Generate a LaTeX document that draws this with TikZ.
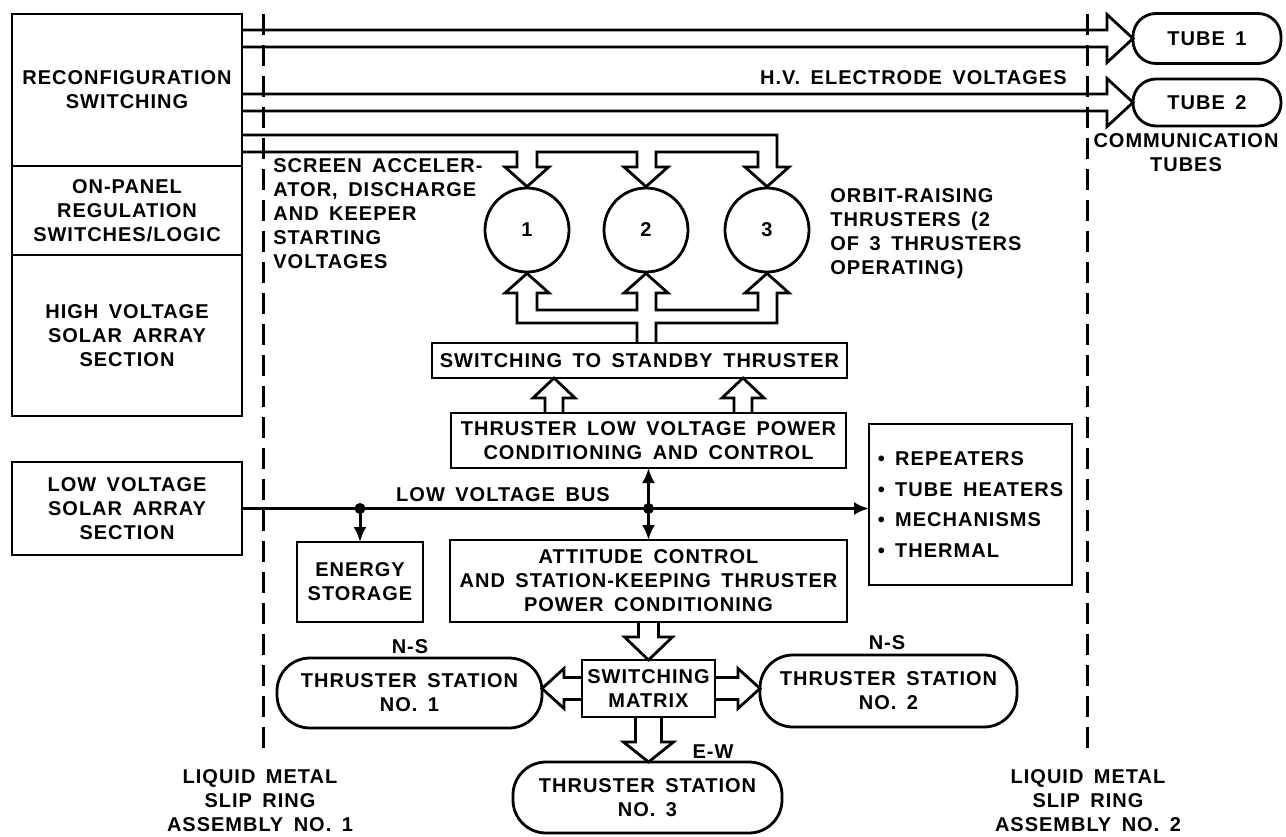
\documentclass[tikz,border=0pt]{standalone}
\usepackage{fontspec}
\setmainfont{Liberation Sans}[LetterSpace=5,WordSpace=1.6]
\usetikzlibrary{arrows.meta,calc,positioning}
\newcommand\hollowarrow[5]{%
  \path #4 coordinate (ha-s) #5 coordinate (ha-e);
  \draw[hollow] let \p1=($(ha-e)-(ha-s)$), \n1={veclen(\x1,\y1)}, \n2={atan2(\y1,\x1)} in
    [shift={(ha-s)},rotate=\n2] (0,#1) -- (\n1-#3,#1) -- (\n1-#3,#2) -- (\n1,0) -- (\n1-#3,-#2) -- (\n1-#3,-#1) -- (0,-#1);}

\begin{document}
\begin{tikzpicture}[x=1pt,y=-1pt,line width=2.8pt,>={Latex[length=15pt,width=13pt]},every node/.style={font=\fontsize{20}{24}\selectfont\bfseries,align=center,inner sep=0pt},box/.style={draw,outer sep=0pt},stadium/.style={draw,rounded corners=33,outer sep=0pt},hollow/.style={draw,line join=miter},bus/.style={line width=3pt},slip/.style={line width=3pt,dash pattern=on 21pt off 10pt}]
\useasboundingbox (0,0) rectangle (1286,836);
\coordinate (s1t) at (263,14); \coordinate (s1b) at (263,753);
\coordinate (s2t) at (1087,14); \coordinate (s2b) at (1087,753);
\draw[slip] (s1t)--(s1b); \draw[slip] (s2t)--(s2b);
\node[box,minimum width=230,minimum height=152] (rec) at (127,90) {RECONFIGURATION\\SWITCHING};
\node[box,minimum width=230,minimum height=89,below=0pt of rec] (onp) {ON-PANEL\\REGULATION\\SWITCHES/LOGIC};
\node[box,minimum width=230,minimum height=161,below=0pt of onp] (hvs) {HIGH VOLTAGE\\SOLAR ARRAY\\SECTION};
\node[box,minimum width=230,minimum height=93] (lvs) at (127,508.5) {LOW VOLTAGE\\SOLAR ARRAY\\SECTION};
\node[stadium,rounded corners=23,minimum width=148,minimum height=50] (tube1) at (1207,38.5) {TUBE 1};
\node[stadium,rounded corners=23,minimum width=148,minimum height=47] (tube2) at (1207,102.5) {TUBE 2};
\node (comm) at (1186,153) {COMMUNICATION\\TUBES};
\node[anchor=east] (hvl) at (1068,78) {H.V. ELECTRODE VOLTAGES};
\node[draw,circle,minimum size=84] (c1) at (527,230) {1};
\node[draw,circle,minimum size=84] (c2) at (646,230) {2};
\node[draw,circle,minimum size=84] (c3) at (767,230) {3};
\node[anchor=west,align=left] (scr) at (272,214) {SCREEN ACCELER-\\ATOR, DISCHARGE\\AND KEEPER\\STARTING\\VOLTAGES};
\node[anchor=west,align=left] (orb) at (829,234) {ORBIT-RAISING\\THRUSTERS (2\\OF 3 THRUSTERS\\OPERATING)};
\node[box,minimum width=415,minimum height=35] (sw) at (639.5,360.5) {SWITCHING TO STANDBY THRUSTER};
\node[box,minimum width=395,minimum height=55] (alv) at (648.5,440.5) {THRUSTER LOW VOLTAGE POWER\\CONDITIONING AND CONTROL};
\node[box,minimum width=203,minimum height=161,align=left,font=\fontsize{20}{30.5}\selectfont\bfseries] (rep) at (970.5,504.5) {\textbullet\ REPEATERS\\\textbullet\ TUBE HEATERS\\\textbullet\ MECHANISMS\\\textbullet\ THERMAL};
\node (lvb) at (503,495) {LOW VOLTAGE BUS};
\node[box,minimum width=126,minimum height=80] (ens) at (360,582) {ENERGY\\STORAGE};
\node[box,minimum width=397,minimum height=82] (att) at (648.5,581) {ATTITUDE CONTROL\\AND STATION-KEEPING THRUSTER\\POWER CONDITIONING};
\node[box,minimum width=133,minimum height=57] (sm) at (648.5,688.5) {SWITCHING\\MATRIX};
\node[stadium,minimum width=265,minimum height=70] (st1) at (409.5,693) {THRUSTER STATION\\NO. 1};
\node[stadium,minimum width=257,minimum height=72] (st2) at (888.5,691) {THRUSTER STATION\\NO. 2};
\node[stadium,minimum width=269,minimum height=71] (st3) at (647.5,797.5) {THRUSTER STATION\\NO. 3};
\node (ns1) at (410,647) {N-S}; \node (ns2) at (887,643) {N-S}; \node (ew) at (713,752) {E-W};
\node (lm1) at (260,801) {LIQUID METAL\\SLIP RING\\ASSEMBLY NO. 1};
\node (lm2) at (1088,801) {LIQUID METAL\\SLIP RING\\ASSEMBLY NO. 2};
\hollowarrow{8.5}{24}{26}{(rec.east |- 0,38.5)}{(tube1.west)}
\hollowarrow{8.5}{24}{26}{(rec.east |- 0,102.5)}{(tube2.west)}
\draw[hollow] (rec.east |- 0,135) -- (777,135) -- (777,167) -- (789,167) -- (c3.north) -- (745,167) -- (758,167) -- (758,152) -- (656,152) -- (656,167) -- (668,167) -- (c2.north) -- (624,167) -- (637,167) -- (637,152) -- (537,152) -- (537,167) -- (549,167) -- (c1.north) -- (505,167) -- (517,167) -- (517,152) -- (rec.east |- 0,152);
\draw[hollow] (sw.north -| 637,0) -- (637,323) -- (517,323) -- (517,293) -- (505,293) -- (c1.south) -- (549,293) -- (537,293) -- (537,310) -- (637,310) -- (637,293) -- (624,293) -- (c2.south) -- (668,293) -- (656,293) -- (656,310) -- (758,310) -- (758,293) -- (745,293) -- (c3.south) -- (789,293) -- (777,293) -- (777,323) -- (656,323) -- (sw.north -| 656,0);
\hollowarrow{9}{21}{20}{(alv.north -| 554,0)}{(sw.south -| 554,0)}
\hollowarrow{9}{21}{20}{(alv.north -| 743,0)}{(sw.south -| 743,0)}
\hollowarrow{10}{24}{23}{(att.south)}{(sm.north)}
\hollowarrow{11}{20}{22}{(sm.west)}{(sm.west -| st1.east)}
\hollowarrow{11}{20}{22}{(sm.east)}{(sm.east -| st2.west)}
\hollowarrow{13}{25}{20}{(sm.south)}{(sm.south |- st3.north)}
\coordinate (j1) at (ens.north |- lvs.east); \coordinate (j2) at (att.north |- lvs.east);
\draw[bus,->] (lvs.east) -- (lvs.east -| rep.west);
\draw[bus,->] (j1) -- (ens.north); \draw[bus,->] (j2) -- (alv.south); \draw[bus,->] (j2) -- (att.north);
\fill (j1) circle (5.5); \fill (j2) circle (5.5);
\end{tikzpicture}
\end{document}
